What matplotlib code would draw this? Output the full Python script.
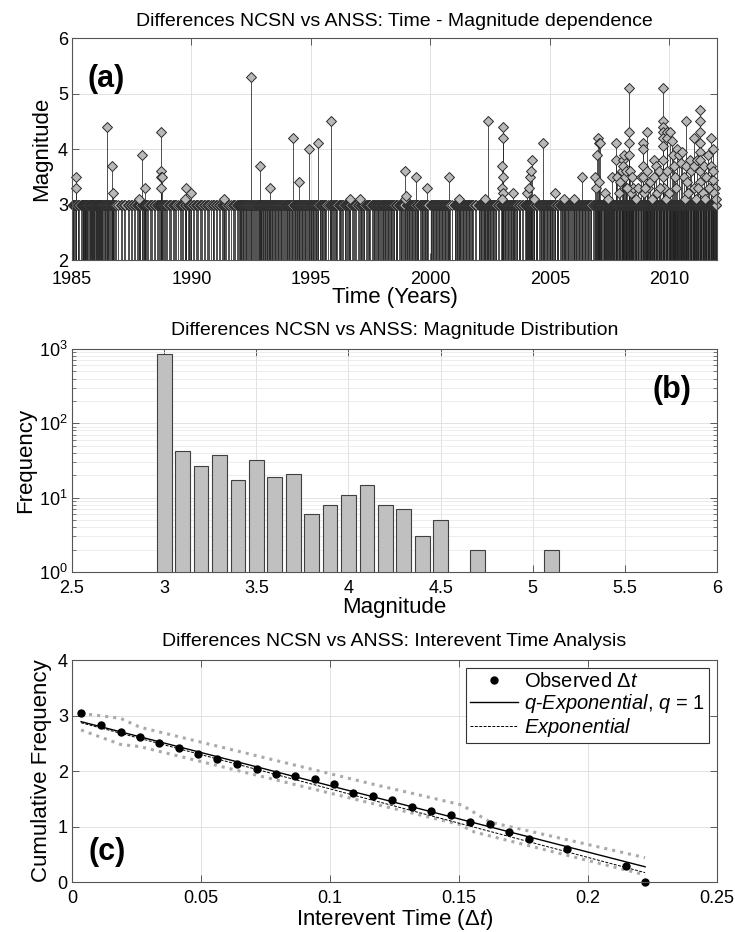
import numpy as np
import matplotlib
matplotlib.use('Agg')
import matplotlib.pyplot as plt

plt.rcParams['font.family'] = ['Liberation Sans', 'DejaVu Sans']
plt.rcParams['mathtext.fontset'] = 'custom'
plt.rcParams['mathtext.rm'] = 'Liberation Sans'
plt.rcParams['mathtext.it'] = 'Liberation Sans:italic'
plt.rcParams['mathtext.bf'] = 'Liberation Sans:bold'

# ---- panel (a): M3.0 events, hundredths of a year for each year ----
m30_years = {
    1985: "02 05 05 09 14 18 18 23 27 31 36 40 44 45 46 46 48 50 51 53 55 55 57 60 62 62 65 70 74 76 79 79 82 84 87 87 90 93 96",
    1986: "01 01 03 06 08 08 11 14 17 17 20 23 26 26 29 33 36 40 43 47 51 51 55 59 63 66 66 70 73 73 76 80 86 92",
    1987: "05 11 17 23 35 40 46 53 58 64 71 76 82 86 86 91 95",
    1988: "01 01 04 07 07 10 14 20 26 32 36 43 48 54 59 64 68 71 71 73 73 76 80 84 88 93 97",
    1989: "04 09 15 22 28 33 37 45 51 55 60 66 71 75 78 78 84 88 91 95 99",
    1990: "05 09 17 22 28 34 40 46 53 58 64 69 75 81 88 92 96",
    1991: "02 08 15 20 26 32 36 42 45 51 57 66 72 78 84 89 93 97",
    1992: "03 03 07 07 12 16 16 20 24 28 28 33 37 41 45 49 55 59 63 66 70 73 77 81 81 85 89 89 93 97",
    1993: "01 01 05 09 09 13 17 17 21 25 25 30 34 38 38 42 46 50 50 55 59 63 63 67 71 75 75 80 84 88 92 96",
    1994: "01 01 04 08 08 12 16 20 20 30 33 33 37 41 41 45 50 50 54 58 62 62 67 71 75 75 79 84 88 93 98",
    1995: "02 02 06 10 10 14 18 22 22 27 31 39 39 43 47 47 52 56 60 60 65 70 80 80 84 88 92 97",
    1996: "02 06 06 11 16 21 21 26 31 36 41 41 46 51 56 60 60 65 70 75 80 85 90 95",
    1997: "03 08 08 14 19 24 24 29 34 39 44 44 49 54 59 63 63 68 72 77 81 81 86 90 95 99",
    1998: "02 02 06 10 10 15 19 23 23 28 32 36 36 41 45 49 49 54 58 62 62 67 71 75 75 80 85 90",
    1999: "03 03 07 11 11 16 20 24 24 29 33 37 37 42 46 50 50 55 59 63 63 68 72 76 76 81 86 92",
    2000: "01 01 05 09 09 14 18 22 22 27 31 35 35 40 44 48 48 53 57 61 61 66 70 74 74 79 84 90",
    2001: "02 02 06 10 10 15 19 23 23 28 32 36 36 41 45 49 49 54 58 62 62 67 71 75 75 80 86 93",
    2002: "03 03 07 11 11 16 20 24 24 29 33 37 37 42 46 50 50 55 59 63 63 68 72 76 76 81 87 94",
    2003: "01 01 02 03 04 04 08 12 12 17 21 25 25 30 34 38 38 43 47 51 51 56 60 64 64 69 73 77 77 82 88 94",
    2004: "01 01 05 09 09 14 18 22 22 27 31 35 35 40 44 48 48 53 57 61 61 66 70 74 74 79 83 87 87 92 96 99",
    2005: "02 02 06 10 10 15 19 23 23 28 32 36 36 41 45 49 49 54 58 62 62 67 71 75 75 80 84 89 93 97",
    2006: "01 01 05 09 09 14 18 22 22 27 31 35 35 40 44 48 48 53 57 61 61 66 70 74 74 79 83 88 93 98",
    2007: "01 01 04 07 07 10 13 16 16 19 22 25 28 28 31 34 37 40 40 43 46 49 52 52 55 58 61 64 64 67 70 73 76 76 79 82 85 88 91 94 97",
    2008: "00 02 02 05 08 08 11 14 17 20 20 23 26 29 32 32 35 38 41 44 44 47 50 53 56 56 59 62 65 68 68 71 74 77 80 80 83 86 89 92 95 98",
    2009: "01 01 04 07 07 10 13 16 19 19 22 25 28 31 31 34 37 40 43 43 46 49 52 55 55 58 61 64 67 67 70 73 76 79 79 82 85 88 91 94 97",
    2010: "02 02 05 08 08 11 14 17 20 20 23 26 29 32 32 35 38 41 44 44 47 50 53 56 56 59 62 65 68 68 71 74 77 80 80 83 86 89 92 95 98",
    2011: "01 01 04 07 07 10 13 16 19 19 22 25 28 31 31 34 37 40 43 43 46 49 52 55 55 58 61 64 67 67 70 73 76 79 79 82 85 88 91 94 97",
}

# larger events (time in years, magnitude)
big_t = [1985.15, 1985.16, 1986.45, 1986.69, 1986.71, 1987.82, 1987.93, 1988.04,
         1988.72, 1988.73, 1988.74, 1988.75, 1988.73, 1989.74, 1989.76, 1989.97,
         1991.37, 1992.49, 1992.86, 1993.29, 1994.23, 1994.50, 1994.92, 1995.31,
         1995.85, 1996.62, 1997.04, 1998.92, 1998.95, 1998.97, 1999.41, 1999.86,
         2000.78, 2001.21, 2002.30, 2002.43, 2003.02, 2003.03, 2003.01, 2003.04,
         2003.00, 2003.05, 2002.98, 2003.46, 2004.05, 2004.12, 2004.18, 2004.22,
         2004.25, 2004.70, 2005.23, 2006.00, 2006.35, 2006.90, 2006.93, 2006.97,
         2007.00, 2007.05, 2007.07, 2007.10, 2007.60, 2007.79, 2007.77, 2007.80,
         2007.95, 2008.00, 2008.05, 2008.08, 2008.12, 2008.15, 2008.18, 2008.20,
         2008.33, 2008.33, 2008.33, 2008.33, 2008.34, 2008.40, 2008.45, 2008.50,
         2008.70, 2008.80, 2008.89, 2008.89, 2008.89, 2008.90, 2009.08, 2009.08,
         2009.09, 2009.20, 2009.35, 2009.36, 2009.45, 2009.55, 2009.73, 2009.73,
         2009.73, 2009.73, 2009.74, 2009.74, 2009.74, 2009.75, 2009.76, 2009.91,
         2009.91, 2009.92, 2010.05, 2010.10, 2010.15, 2010.20, 2010.25, 2010.33,
         2010.40, 2010.50, 2010.54, 2010.60, 2010.72, 2010.72, 2010.73, 2010.85,
         2010.90, 2011.03, 2011.03, 2011.04, 2011.15, 2011.28, 2011.28, 2011.28,
         2011.28, 2011.29, 2011.29, 2011.29, 2011.30, 2011.45, 2011.55, 2011.62,
         2011.73, 2011.73, 2011.83, 2011.83, 2011.84, 2011.92,
         2007.30, 2007.45, 2007.88, 2008.25, 2008.60, 2008.95, 2009.00, 2009.28,
         2009.50, 2009.62, 2009.85, 2010.00, 2010.30, 2010.65, 2010.80, 2011.10,
         2011.20, 2011.40, 2011.50, 2011.68, 2011.88, 2011.96, 2004.35, 2005.60]
big_m = [3.5, 3.3, 4.4, 3.7, 3.2, 3.1, 3.9, 3.3,
         3.6, 4.3, 3.5, 3.5, 3.3, 3.1, 3.3, 3.2,
         3.1, 5.3, 3.7, 3.3, 4.2, 3.4, 4.0, 4.1,
         4.5, 3.1, 3.1, 3.6, 3.1, 3.15, 3.5, 3.3,
         3.5, 3.1, 3.1, 4.5, 4.4, 4.2, 3.7, 3.5,
         3.3, 3.2, 3.1, 3.2, 3.2, 3.3, 3.5, 3.6,
         3.8, 4.1, 3.2, 3.1, 3.5, 3.5, 3.3, 3.9,
         4.2, 4.1, 3.4, 4.1, 3.5, 4.1, 3.8, 3.5,
         3.4, 3.6, 3.8, 3.7, 3.9, 3.5, 3.3, 3.6,
         5.1, 4.3, 4.1, 3.9, 3.6, 3.2, 3.5, 3.3,
         3.3, 3.5, 4.1, 4.0, 3.7, 3.5, 4.3, 3.6,
         3.3, 3.4, 3.8, 3.5, 3.7, 3.6, 5.1, 4.5,
         4.4, 4.3, 4.2, 4.05, 3.8, 3.5, 3.3, 4.3,
         4.2, 3.6, 4.3, 4.15, 3.9, 3.7, 3.5, 4.0,
         3.9, 3.75, 3.95, 3.5, 4.5, 3.7, 3.4, 3.8,
         3.6, 4.2, 3.7, 3.3, 3.8, 4.7, 4.5, 4.3,
         4.1, 3.95, 3.8, 3.6, 3.4, 3.7, 3.5, 3.9,
         4.2, 3.7, 4.0, 3.45, 3.6, 3.3,
         3.2, 3.1, 3.2, 3.3, 3.1, 3.2, 3.3, 3.1,
         3.2, 3.3, 3.1, 3.2, 3.3, 3.1, 3.2, 3.1,
         3.3, 3.2, 3.1, 3.3, 3.2, 3.1, 3.1, 3.1]

# ---- panel (b): magnitude histogram ----
mag_bins = [3.0, 3.1, 3.2, 3.3, 3.4, 3.5, 3.6, 3.7, 3.8, 3.9, 4.0, 4.1, 4.2, 4.3, 4.4, 4.5, 4.7, 5.1]
mag_counts = [850, 42, 27, 37, 17, 32, 19, 21, 6, 8, 11, 15, 8, 7, 3, 5, 2, 2]

# ---- panel (c): interevent times ----
dt_obs = [0.0035, 0.0111, 0.0188, 0.0263, 0.0338, 0.0413, 0.0488, 0.0563, 0.0640,
          0.0715, 0.0790, 0.0865, 0.0940, 0.1015, 0.1090, 0.1167, 0.1242, 0.1316,
          0.1392, 0.1467, 0.1542, 0.1619, 0.1695, 0.1770, 0.1920, 0.2146, 0.2221]
cf_obs = [3.04, 2.83, 2.71, 2.61, 2.51, 2.42, 2.30, 2.22, 2.12,
          2.03, 1.95, 1.91, 1.85, 1.76, 1.61, 1.55, 1.48, 1.36,
          1.28, 1.21, 1.08, 1.05, 0.90, 0.78, 0.60, 0.29, 0.0]
qexp_x = [0.0035, 0.2221]
qexp_y = [2.89, 0.275]
exp_x = [0.0035, 0.2221]
exp_y = [2.87, 0.17]
upper_x = [0.0035, 0.0188, 0.0263, 0.1160, 0.1510, 0.1620, 0.2221]
upper_y = [3.04, 2.95, 2.79, 1.77, 1.39, 1.08, 0.44]
lower_x = [0.0035, 0.0188, 0.0263, 0.1160, 0.1500, 0.1560, 0.2221]
lower_y = [2.74, 2.48, 2.44, 1.42, 1.04, 0.90, 0.13]

TITLE_FS = 14
LABEL_FS = 16
TICK_FS = 13


def style_axes(ax, xpad=6):
    ax.tick_params(direction='in', top=True, right=True, length=5, width=0.6,
                   labelsize=TICK_FS, color='#444444', pad=3)
    ax.tick_params(which='minor', direction='in', top=True, right=True, length=3, width=0.5,
                   color='#444444')
    ax.tick_params(axis='x', pad=xpad)
    for s in ax.spines.values():
        s.set_linewidth(0.8)
        s.set_color('#555555')
    ax.grid(True, color='#dddddd', lw=0.6)
    ax.set_axisbelow(True)


fig = plt.figure(figsize=(7.35, 9.32), dpi=100)

# (a)
m30_t = []
for yr, s in m30_years.items():
    for h in s.split():
        m30_t.append(yr + int(h) / 100.0)
m30_m = [3.0] * len(m30_t)
all_t = m30_t + big_t
all_m = m30_m + big_m

ax1 = fig.add_axes([0.098, 0.721, 0.8776, 0.2382])
ax1.vlines(all_t, 2, all_m, colors='#202020', lw=0.55)
ax1.plot(all_t, all_m, 'D', ms=5, mfc='#b8b8b8', mec='#2a2a2a', mew=0.7, clip_on=False)
ax1.set_xlim(1985, 2012)
ax1.set_ylim(2, 6)
ax1.set_xticks([1985, 1990, 1995, 2000, 2005, 2010])
ax1.set_yticks([2, 3, 4, 5, 6])
style_axes(ax1, xpad=8)
ax1.set_title('Differences NCSN vs ANSS: Time - Magnitude dependence', fontsize=TITLE_FS, pad=9)
ax1.set_xlabel('Time (Years)', fontsize=LABEL_FS, labelpad=-1)
ax1.set_ylabel('Magnitude', fontsize=LABEL_FS, labelpad=4)
ax1.text(0.024, 0.78, '(a)', transform=ax1.transAxes, fontsize=22, fontweight='bold')

# (b)
ax2 = fig.add_axes([0.098, 0.3863, 0.8776, 0.2393])
ax2.bar(mag_bins, mag_counts, width=0.08, color='#c0c0c0', edgecolor='#404040', lw=0.8, log=True)
ax2.set_yscale('log')
ax2.set_xlim(2.5, 6)
ax2.set_ylim(1, 1000)
ax2.set_xticks([2.5, 3, 3.5, 4, 4.5, 5, 5.5, 6])
ax2.set_xticklabels(['2.5', '3', '3.5', '4', '4.5', '5', '5.5', '6'])
style_axes(ax2)
ax2.grid(True, which='minor', axis='y', color='#e6e6e6', lw=0.5)
ax2.set_title('Differences NCSN vs ANSS: Magnitude Distribution', fontsize=TITLE_FS, pad=10)
ax2.set_xlabel('Magnitude', fontsize=LABEL_FS, labelpad=0)
ax2.set_ylabel('Frequency', fontsize=LABEL_FS, labelpad=2)
ax2.text(0.96, 0.78, '(b)', transform=ax2.transAxes, fontsize=22, fontweight='bold', ha='right')

# (c)
ax3 = fig.add_axes([0.098, 0.0536, 0.8776, 0.2382])
ax3.plot(upper_x, upper_y, ':', color='#aaaaaa', lw=2.2)
ax3.plot(lower_x, lower_y, ':', color='#aaaaaa', lw=2.2)
ax3.plot(dt_obs, cf_obs, 'o', color='black', ms=5, clip_on=False, label=r'Observed $\mathit{\Delta t}$')
ax3.plot(qexp_x, qexp_y, '-', color='black', lw=1.0,
         label=r'$\mathit{q}$-$\mathit{Exponential}$, $\mathit{q}$ = 1')
ax3.plot(exp_x, exp_y, '--', color='black', lw=0.7, dashes=(3, 1.5), label=r'$\mathit{Exponential}$')
ax3.set_xlim(0, 0.25)
ax3.set_ylim(0, 4)
ax3.set_xticks([0, 0.05, 0.1, 0.15, 0.2, 0.25])
ax3.set_xticklabels(['0', '0.05', '0.1', '0.15', '0.2', '0.25'])
ax3.set_yticks([0, 1, 2, 3, 4])
style_axes(ax3)
ax3.set_title('Differences NCSN vs ANSS: Interevent Time Analysis', fontsize=TITLE_FS, pad=10)
ax3.set_xlabel(r'Interevent Time ($\mathit{\Delta t}$)', fontsize=LABEL_FS, labelpad=0)
ax3.set_ylabel('Cumulative Frequency', fontsize=LABEL_FS, labelpad=4)
ax3.text(0.025, 0.1, '(c)', transform=ax3.transAxes, fontsize=22, fontweight='bold')
leg = ax3.legend(loc='upper right', fontsize=14.5, fancybox=False, framealpha=1,
                 edgecolor='#333333', borderpad=0.2, labelspacing=0.05, handlelength=2.4,
                 handletextpad=0.3, borderaxespad=0.4)
leg.get_frame().set_linewidth(0.8)

fig.savefig('out.png', dpi=100)
